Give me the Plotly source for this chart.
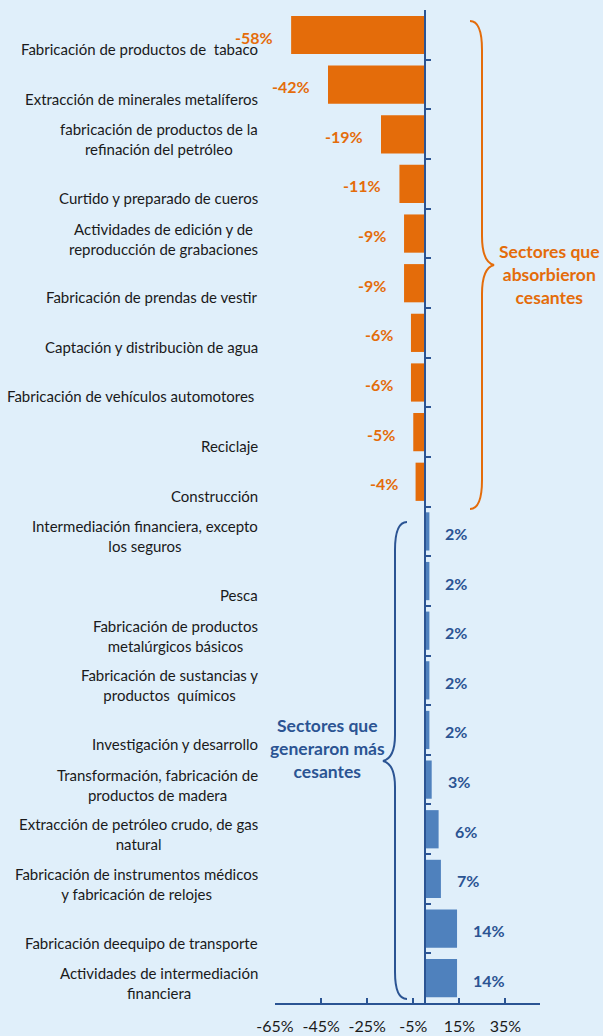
import plotly.graph_objects as go

sectores = [
    "Fabricación de productos de  tabaco",
    "Extracción de minerales metalíferos",
    "fabricación de productos de la\nrefinación del petróleo",
    "Curtido y preparado de cueros",
    "Actividades de edición y de\nreproducción de grabaciones",
    "Fabricación de prendas de vestir",
    "Captación y distribuciòn de agua",
    "Fabricación de vehículos automotores ",
    "Reciclaje",
    "Construcción",
    "Intermediación financiera, excepto\nlos seguros",
    "Pesca",
    "Fabricación de productos\nmetalúrgicos básicos",
    "Fabricación de sustancias y\nproductos  químicos",
    "Investigación y desarrollo",
    "Transformación, fabricación de\nproductos de madera",
    "Extracción de petróleo crudo, de gas\nnatural",
    "Fabricación de instrumentos médicos\ny fabricación de relojes",
    "Fabricación deequipo de transporte",
    "Actividades de intermediación\nfinanciera",
]
variacion = [-58, -42, -19, -11, -9, -9, -6, -6, -5, -4,
             2, 2, 2, 2, 2, 3, 6, 7, 14, 14]
ticks_x = [-65, -45, -25, -5, 15, 35]

NARANJA = "#e46c0a"
AZUL = "#4f81bd"
AZUL_OSC = "#2b5493"
FONDO = "#e0effa"
FUENTE = "Lato"

# plot area in pixels (used to place the braces)
L, R, T, B = 275, 63, 10, 33
W, H = 603, 1036
XMIN, XMAX = -65, 50


def px_x(px):
    return XMIN + (px - L) / (W - L - R) * (XMAX - XMIN)


def px_xp(px):
    return (px - L) / (W - L - R)


def px_y(py):
    return (H - B - py) / (H - T - B)


def llave(pts):
    # pts: list of (cmd, [(px,py),...]) in pixel coords -> svg path in x / paper coords
    s = ""
    for cmd, coords in pts:
        s += cmd + " " + " ".join(f"{px_x(a):.3f},{px_y(b):.4f}" for a, b in coords) + " "
    return s.strip()


colores = [NARANJA if v < 0 else AZUL for v in variacion]

fig = go.Figure(go.Bar(
    x=variacion,
    y=sectores,
    orientation="h",
    marker=dict(color=colores, line=dict(width=0)),
    width=0.77,
    hoverinfo="skip",
))

anots = []
for s, v in zip(sectores, variacion):
    neg = v < 0
    anots.append(dict(
        x=v, y=s, xref="x", yref="y",
        text=f"{v}%", showarrow=False,
        xanchor="right" if neg else "left",
        xshift=-16 if neg else 14, yshift=-2,
        font=dict(family=FUENTE, size=16, color=NARANJA if neg else AZUL_OSC, weight="bold"),
    ))
    dos = "\n" in s
    anots.append(dict(
        x=0, y=s, xref="paper", yref="y",
        text=s.replace("\n", "<br>"), showarrow=False,
        xanchor="right", align="center", xshift=-15,
        yshift=-5 if dos else -14,
        font=dict(family=FUENTE, size=15, color="#1a1a1a"),
    ))

anots.append(dict(
    x=px_xp(549), y=px_y(274), xref="paper", yref="paper",
    xanchor="center", yanchor="middle",
    text="Sectores que<br>absorbieron<br>cesantes", showarrow=False,
    font=dict(family=FUENTE, size=17.5, color=NARANJA, weight="bold"), align="center",
))
anots.append(dict(
    x=px_xp(327), y=px_y(748), xref="paper", yref="paper",
    xanchor="center", yanchor="middle",
    text="Sectores que<br>generaron más<br>cesantes", showarrow=False,
    font=dict(family=FUENTE, size=17.5, color=AZUL_OSC, weight="bold"), align="center",
))

llave_naranja = llave([
    ("M", [(470, 21)]), ("Q", [(482, 21), (482, 50)]), ("L", [(482, 236)]),
    ("Q", [(482, 262), (494, 265)]), ("Q", [(482, 268), (482, 294)]),
    ("L", [(482, 480)]), ("Q", [(482, 509), (470, 509)]),
])
llave_azul = llave([
    ("M", [(407, 522)]), ("Q", [(395, 522), (395, 550)]), ("L", [(395, 735)]),
    ("Q", [(395, 758), (383, 761)]), ("Q", [(395, 764), (395, 787)]),
    ("L", [(395, 972)]), ("Q", [(395, 999), (407, 999)]),
])

fig.update_layout(
    width=W, height=H,
    margin=dict(l=L, r=R, t=T, b=B, autoexpand=False),
    paper_bgcolor=FONDO, plot_bgcolor=FONDO,
    showlegend=False,
    annotations=anots,
    shapes=[
        dict(type="path", path=llave_naranja, xref="x", yref="paper",
             line=dict(color=NARANJA, width=2)),
        dict(type="path", path=llave_azul, xref="x", yref="paper",
             line=dict(color=AZUL_OSC, width=2)),
    ],
    xaxis=dict(
        range=[XMIN, XMAX], tickvals=ticks_x, ticktext=[f"{t}%" for t in ticks_x],
        ticks="inside", ticklen=5, tickwidth=2, tickcolor=AZUL_OSC,
        showline=True, linecolor=AZUL_OSC, linewidth=2,
        showgrid=False, zeroline=False, automargin=False,
        tickfont=dict(family=FUENTE, size=16, color="#1a1a1a"),
        ticklabelstandoff=8,
    ),
    yaxis=dict(
        type="category", autorange="reversed",
        anchor="free", position=(0 - XMIN) / (XMAX - XMIN),
        showticklabels=False, tickson="boundaries", automargin=False,
        ticks="inside", ticklen=5, tickwidth=2, tickcolor=AZUL_OSC,
        showline=True, linecolor=AZUL_OSC, linewidth=2,
        showgrid=False, zeroline=False,
    ),
)

fig.write_html("out.html", config={"displayModeBar": False},
               post_script="document.body.style.margin='0';")
